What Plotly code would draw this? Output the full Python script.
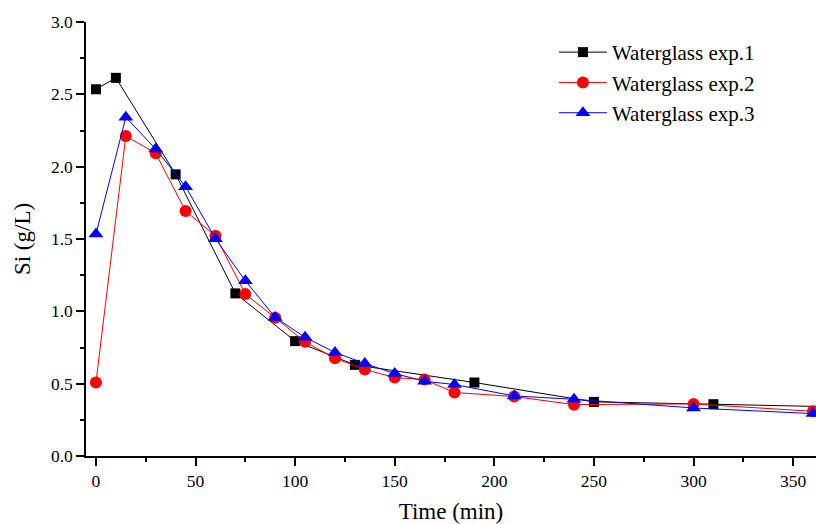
import plotly.graph_objects as go

# Silicon concentration over time for three waterglass experiments
time_exp1 = [0, 10, 40, 70, 100, 130, 190, 250, 310, 370]
si_exp1 = [2.535, 2.614, 1.947, 1.124, 0.794, 0.63, 0.508, 0.374, 0.358, 0.34]

time_exp2 = [0, 15, 30, 45, 60, 75, 90, 105, 120, 135, 150, 165, 180, 210, 240, 300, 360]
si_exp2 = [0.508, 2.212, 2.093, 1.693, 1.522, 1.119, 0.955, 0.789, 0.676, 0.598,
           0.542, 0.528, 0.439, 0.411, 0.355, 0.36, 0.309]

time_exp3 = [0, 15, 30, 45, 60, 75, 90, 105, 120, 135, 150, 165, 180, 210, 240, 300, 360]
si_exp3 = [1.535, 2.342, 2.122, 1.862, 1.502, 1.211, 0.958, 0.82, 0.716, 0.639,
           0.57, 0.517, 0.494, 0.415, 0.392, 0.332, 0.293]

series_names = ["Waterglass exp.1", "Waterglass exp.2", "Waterglass exp.3"]

FONT = "Liberation Serif, Times New Roman, serif"

fig = go.Figure()
fig.add_trace(go.Scatter(
    x=time_exp1, y=si_exp1, name=series_names[0], mode="lines+markers",
    line=dict(color="black", width=1),
    marker=dict(symbol="square", size=10, color="black"),
))
fig.add_trace(go.Scatter(
    x=time_exp2, y=si_exp2, name=series_names[1], mode="lines+markers",
    line=dict(color="#ff0000", width=1),
    marker=dict(symbol="circle", size=12, color="#ff0000"),
))
fig.add_trace(go.Scatter(
    x=time_exp3, y=si_exp3, name=series_names[2], mode="lines+markers",
    line=dict(color="#0000ff", width=1),
    marker=dict(symbol="triangle-up", size=13, color="#0000ff"),
))

axis_common = dict(
    showgrid=False, zeroline=False, showline=True, linecolor="black", linewidth=1.5,
    ticks="outside", ticklen=8, tickwidth=1.5, tickcolor="black",
    tickfont=dict(family=FONT, size=17.5, color="black"),
)

fig.update_layout(
    width=816, height=524,
    margin=dict(l=86, r=0, t=22, b=68),
    paper_bgcolor="white", plot_bgcolor="white",
    font=dict(family=FONT, size=17.5, color="black"),
    showlegend=True,
    legend=dict(
        x=0.641, y=0.977, xanchor="left", yanchor="top",
        bgcolor="rgba(0,0,0,0)", font=dict(family=FONT, size=21),
        tracegroupgap=0, itemwidth=48,
    ),
    xaxis=dict(
        range=[-5, 361.5], tickvals=[0, 50, 100, 150, 200, 250, 300, 350],
        minor=dict(ticks="outside", ticklen=4, tickwidth=1.5, tickcolor="black", dtick=25, tick0=0),
        title=dict(text="Time (min)", font=dict(family=FONT, size=23), standoff=17),
        **axis_common,
    ),
    yaxis=dict(
        range=[0, 3.0], tickvals=[0, 0.5, 1.0, 1.5, 2.0, 2.5, 3.0],
        ticktext=["0.0", "0.5", "1.0", "1.5", "2.0", "2.5", "3.0"],
        minor=dict(ticks="outside", ticklen=4, tickwidth=1.5, tickcolor="black", dtick=0.25, tick0=0),
        title=dict(text="Si (g/L)", font=dict(family=FONT, size=23), standoff=14),
        **axis_common,
    ),
)

fig.write_html("out.html")
